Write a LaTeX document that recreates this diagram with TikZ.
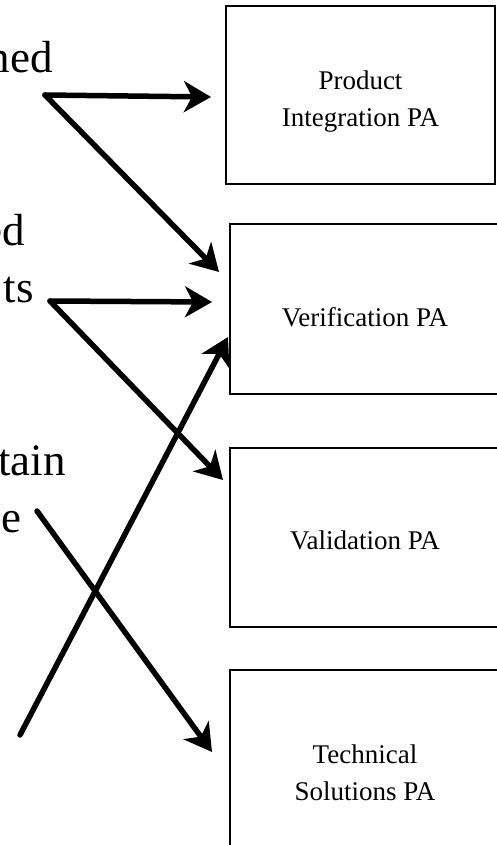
\documentclass[tikz,border=0pt]{standalone}
\usepackage{fontspec}
\setmainfont{Liberation Serif}
\usepackage{tikz}
\usetikzlibrary{arrows.meta, positioning}

\begin{document}
\begin{tikzpicture}[x=1pt, y=-1pt,
    pabox/.style={draw, line width=1.2pt, minimum width=270pt, align=center,
                  inner sep=0pt, font=\fontsize{27}{37}\selectfont},
    frag/.style={anchor=base east, inner sep=0pt, font=\fontsize{45}{57}\selectfont},
    link/.style={line width=5.5pt, line cap=round,
                 -{Stealth[length=27pt, width=31pt, inset=8pt]}}]
    \useasboundingbox (0,0) rectangle (496,845);

    % 过程域方框
    \node[pabox, minimum width=269pt, minimum height=178pt, text height=70pt, text depth=6pt] (pi) at (360.5,95) {Product\\Integration PA};
    \node[pabox, minimum height=170pt, text height=36pt] (ver) at (365,309) {Verification PA};
    \node[pabox, minimum height=179pt, text height=25pt] (val) at (365,537.5) {Validation PA};
    \node[pabox, minimum height=208pt, text height=58pt, text depth=6pt] (tsol) at (365,774) {Technical\\Solutions PA};

    % 左侧文字
    \node[frag] (w1) at (53,73) {ned};
    \node[frag] (w2) at (25,245) {ed};
    \node[frag] (w3) at (34,302) {ts};
    \node[frag] (w4) at (66,475) {tain};
    \node[frag] (w5) at (22,532) {e};

    % 起点与箭头端点
    \coordinate (s1) at (45,95);
    \coordinate (s2) at (50,301);
    \coordinate (s3) at (37,511);
    \coordinate (s4) at (20,735);
    \coordinate (pi-in) at (211,97);
    \coordinate (ver-in1) at (219,272);
    \coordinate (ver-in2) at (212,302);
    \coordinate (ver-in3) at (228,337);
    \coordinate (val-in) at (223,480);
    \coordinate (tsol-in) at (212,752);

    % 连线
    \draw[link] (s1) -- (pi-in);
    \draw[link] (s1) -- (ver-in1);
    \draw[link] (s2) -- (ver-in2);
    \draw[link] (s2) -- (val-in);
    \draw[link] (s3) -- (tsol-in);
    \draw[link] (s4) -- (ver-in3);
\end{tikzpicture}
\end{document}
